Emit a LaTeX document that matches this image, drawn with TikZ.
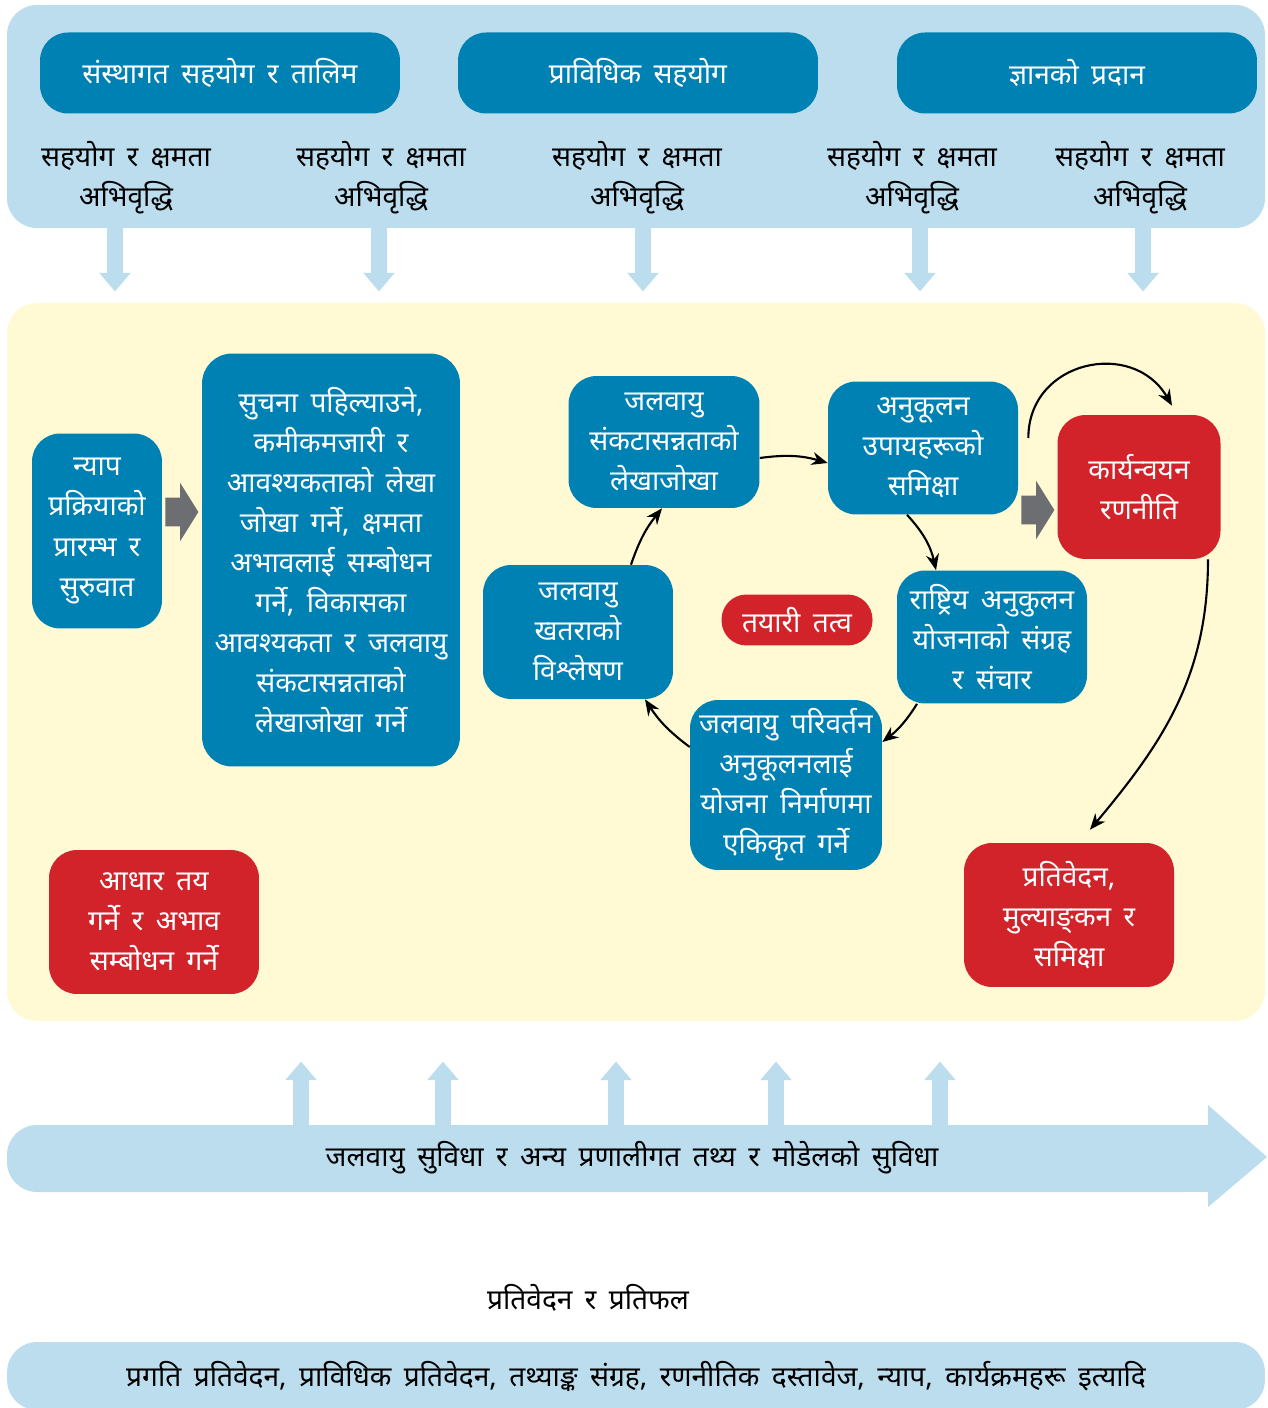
\documentclass[tikz,border=0pt]{standalone}
\usepackage{fontspec}
\newfontfamily\deva[Script=Devanagari,WordSpace=1.7]{Noto Sans}
\usetikzlibrary{arrows.meta,shapes.arrows}
\definecolor{boxblue}{HTML}{0081B4}
\definecolor{paleblue}{HTML}{BCDDED}
\definecolor{paleyellow}{HTML}{FFFAD4}
\definecolor{boxred}{HTML}{D2232A}
\definecolor{arrowgrey}{HTML}{6D6E71}

\begin{document}
\begin{tikzpicture}[x=0.02cm, y=-0.02cm,
    font=\deva\fontsize{16}{22.8}\selectfont,
    bluebox/.style={fill=boxblue, text=white, rounded corners=0.56cm, align=center, inner sep=0pt},
    redbox/.style={fill=boxred, text=white, rounded corners=0.56cm, align=center, inner sep=0pt},
    flow/.style={-{Stealth[length=3.2mm,width=2.6mm]}, line width=1.2pt, black},
    greyarrow/.style={single arrow, fill=arrowgrey, inner xsep=0pt, inner ysep=0.28cm, single arrow head extend=0.3cm,
        single arrow tip angle=116, minimum height=0.66cm, anchor=tail},
    feedarrow/.style={single arrow, fill=paleblue, inner xsep=0.15cm, inner ysep=0pt, single arrow head extend=0.16cm,
        single arrow tip angle=81, minimum height=1.3cm, anchor=tail}]
                \useasboundingbox (0,0) rectangle (1267,1408);
                \clip (0,0) rectangle (1267,1408);

                % --- TOP PANEL ---
                \fill[paleblue, rounded corners=0.6cm] (7,5) rectangle (1265,228);
                \node[bluebox, minimum width=7.2cm, minimum height=1.62cm] (inst) at (220,73) {संस्थागत सहयोग र तालिम};
                \node[bluebox, minimum width=7.2cm, minimum height=1.62cm] (tech) at (638,73) {प्राविधिक सहयोग};
                \node[bluebox, minimum width=7.2cm, minimum height=1.62cm] (know) at (1077,73) {ज्ञानको प्रदान};

                % Support labels
                \node[align=center] (sup1) at (126,178) {सहयोग र क्षमता\\अभिवृद्धि};
                \node[align=center] (sup2) at (381,178) {सहयोग र क्षमता\\अभिवृद्धि};
                \node[align=center] (sup3) at (637,178) {सहयोग र क्षमता\\अभिवृद्धि};
                \node[align=center] (sup4) at (912,178) {सहयोग र क्षमता\\अभिवृद्धि};
                \node[align=center] (sup5) at (1140,178) {सहयोग र क्षमता\\अभिवृद्धि};

                % Down arrows
                \node[feedarrow, shape border rotate=270] (down1) at (115,226) {};
                \node[feedarrow, shape border rotate=270] (down2) at (379,226) {};
                \node[feedarrow, shape border rotate=270] (down3) at (643,226) {};
                \node[feedarrow, shape border rotate=270] (down4) at (920,226) {};
                \node[feedarrow, shape border rotate=270] (down5) at (1143,226) {};

                % --- PROCESS PANEL ---
                \fill[paleyellow, rounded corners=0.6cm] (7,303) rectangle (1265,1021);

                \node[bluebox, minimum width=2.6cm, minimum height=3.9cm] (nyap) at (97,531)
                    {न्याप\\प्रक्रियाको\\प्रारम्भ र\\सुरुवात};
                \node[greyarrow] (gap1) at (165,512) {};
                \node[bluebox, minimum width=5.16cm, minimum height=8.26cm, rounded corners=0.6cm] (lekha) at (331,560)
                    {सुचना पहिल्याउने,\\कमीकमजारी र\\आवश्यकताको लेखा\\जोखा गर्ने, क्षमता\\अभावलाई सम्बोधन\\गर्ने, विकासका\\आवश्यकता र जलवायु\\संकटासन्नताको\\लेखाजोखा गर्ने};

                % Cycle
                \node[bluebox, minimum width=3.82cm, minimum height=2.64cm] (vul) at (664,442)
                    {जलवायु\\संकटासन्नताको\\लेखाजोखा};
                \node[bluebox, minimum width=3.8cm, minimum height=2.66cm] (upaya) at (923,448)
                    {अनुकूलन\\उपायहरूको\\समिक्षा};
                \node[bluebox, minimum width=3.8cm, minimum height=2.66cm] (rastra) at (992,637)
                    {राष्ट्रिय अनुकुलन\\योजनाको संग्रह\\र संचार};
                \node[bluebox, minimum width=3.84cm, minimum height=3.4cm] (yojana) at (786,785)
                    {जलवायु परिवर्तन\\अनुकूलनलाई\\योजना निर्माणमा\\एकिकृत गर्ने};
                \node[bluebox, minimum width=3.8cm, minimum height=2.68cm] (khatra) at (578,632)
                    {जलवायु\\खतराको\\विश्लेषण};
                \node[redbox, minimum width=3.02cm, minimum height=1.02cm, rounded corners=0.5cm] (tayari) at (797,620)
                    {तयारी तत्व};

                \draw[flow] ([yshift=-0.32cm]vul.east) to[bend left=12] ([yshift=-0.3cm]upaya.west);
                \draw[flow] ([xshift=-0.32cm]upaya.south) to[bend left=15] ([xshift=-1.12cm]rastra.north);
                \draw[flow] ([xshift=-1.5cm]rastra.south) to[bend left=10] ([yshift=0.86cm]yojana.east);
                \draw[flow] ([yshift=0.76cm]yojana.west) to[bend left=10] ([xshift=1.34cm]khatra.south);
                \draw[flow] ([xshift=1.06cm]khatra.north) to[bend left=10] ([xshift=-0.04cm]vul.south);

                % Strategy and reporting
                \node[greyarrow] (gap2) at (1021,510) {};
                \node[redbox, minimum width=3.26cm, minimum height=2.88cm] (karya) at (1139,487)
                    {कार्यन्वयन\\रणनीति};
                \node[redbox, minimum width=4.2cm, minimum height=2.88cm] (report) at (1069,915)
                    {प्रतिवेदन,\\मुल्याङ्‌कन र\\समिक्षा};
                \node[redbox, minimum width=4.2cm, minimum height=2.88cm] (aadhar) at (154,922)
                    {आधार तय\\गर्ने र अभाव\\सम्बोधन गर्ने};

                \draw[flow] ([xshift=0.2cm,yshift=0.2cm]upaya.east) to[out=90,in=120,looseness=1.35] ([xshift=0.66cm,yshift=0.18cm]karya.north);
                \draw[flow] ([xshift=1.38cm]karya.south) to[out=-90,in=50] ([xshift=0.42cm,yshift=0.26cm]report.north);

                % --- CLIMATE SERVICES ARROW ---
                \node[feedarrow, shape border rotate=90] (up1) at (301,1127) {};
                \node[feedarrow, shape border rotate=90] (up2) at (443,1127) {};
                \node[feedarrow, shape border rotate=90] (up3) at (616,1127) {};
                \node[feedarrow, shape border rotate=90] (up4) at (776,1127) {};
                \node[feedarrow, shape border rotate=90] (up5) at (940,1127) {};
                \fill[paleblue, rounded corners=0.6cm] (7,1125) rectangle (1215,1192);
                \fill[paleblue] (1180,1125) rectangle (1215,1192);
                \fill[paleblue] (1208,1105) -- (1267,1157) -- (1208,1207) -- cycle;
                \node (services) at (632,1158) {जलवायु सुविधा र अन्य प्रणालीगत तथ्य र मोडेलको सुविधा};

                % --- OUTPUTS ---
                \node (outhead) at (588,1298) {प्रतिवेदन र प्रतिफल};
                \node[fill=paleblue, rounded corners=0.6cm, minimum width=25.16cm, minimum height=1.36cm] (outputs) at (636,1376)
                    {प्रगति प्रतिवेदन, प्राविधिक प्रतिवेदन, तथ्याङ्क संग्रह, रणनीतिक दस्तावेज, न्याप, कार्यक्रमहरू इत्यादि};
            \end{tikzpicture}
\end{document}
